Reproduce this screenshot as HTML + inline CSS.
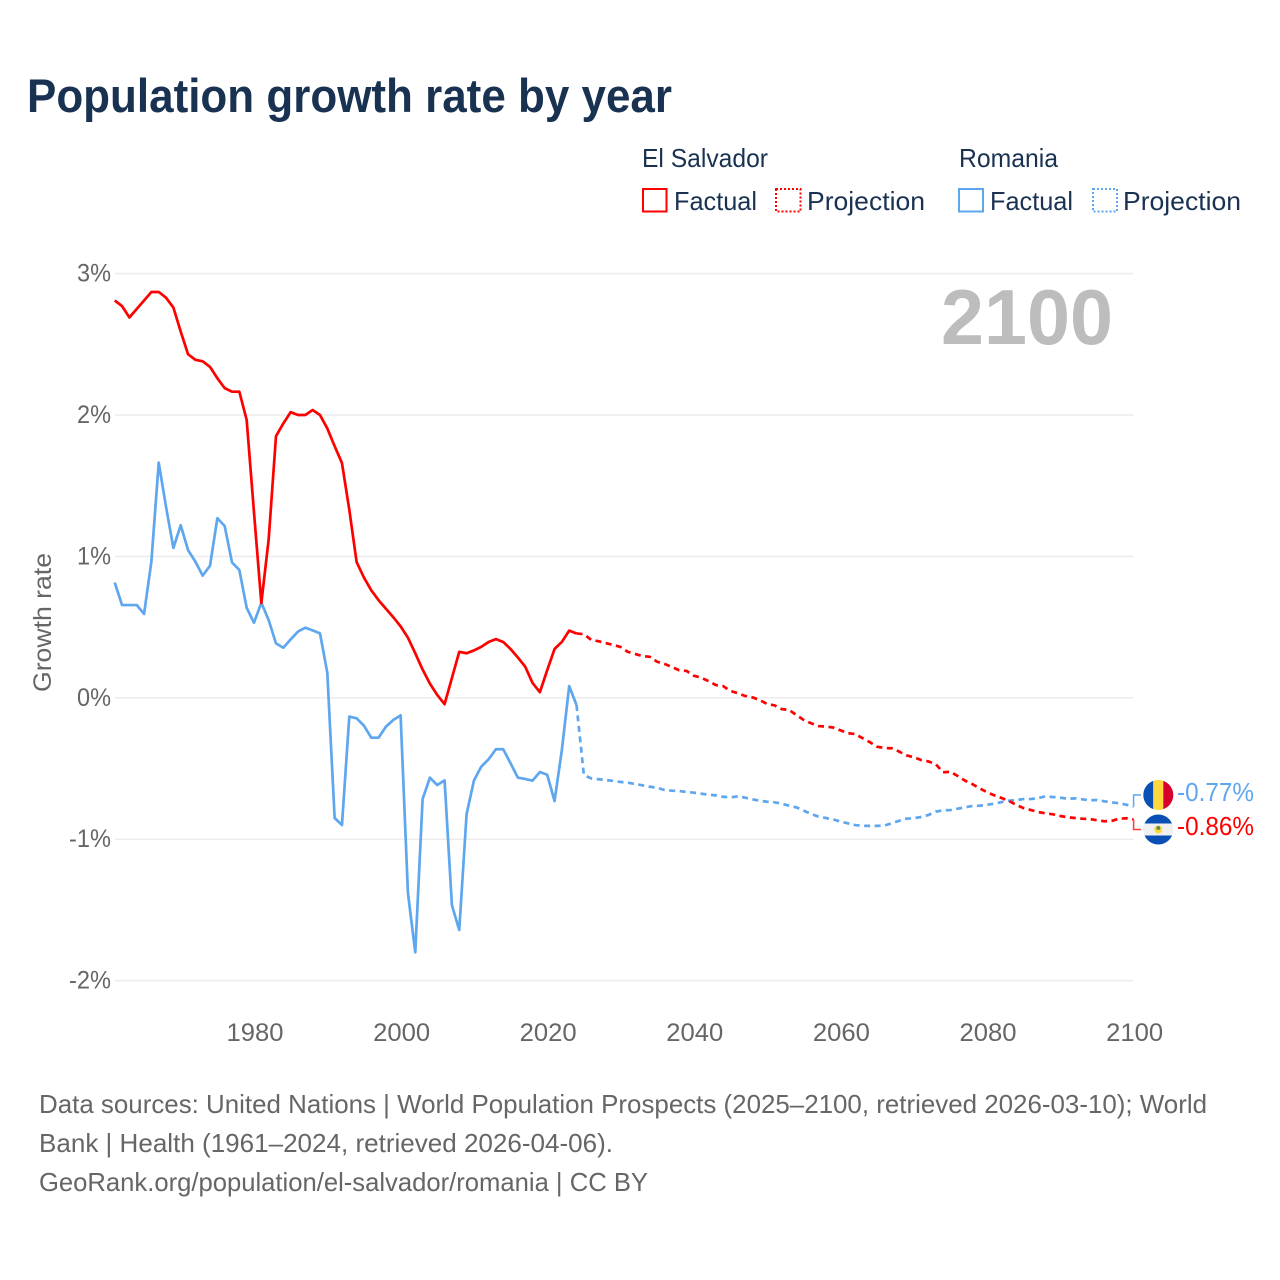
<!DOCTYPE html>
<html lang="en">
<head>
<meta charset="utf-8">
<title>Population growth rate by year</title>
<style>
html,body{margin:0;padding:0;background:#fff}
svg{display:block}
text{font-family:"Liberation Sans",sans-serif}
</style>
</head>
<body>
<svg id="chart" xmlns="http://www.w3.org/2000/svg" width="1280" height="1280" viewBox="0 0 1280 1280">
  <rect x="0" y="0" width="1280" height="1280" fill="#ffffff"/>
  <text x="27" y="112" font-size="47" font-weight="700" fill="#1a3252" textLength="645" lengthAdjust="spacingAndGlyphs">Population growth rate by year</text>

  <g font-size="26" fill="#1a3252">
    <text x="642" y="167" textLength="126" lengthAdjust="spacingAndGlyphs">El Salvador</text>
    <rect x="643" y="189" width="23.5" height="22.5" fill="none" stroke="#ff0000" stroke-width="2"/>
    <text x="674" y="210" textLength="83" lengthAdjust="spacingAndGlyphs">Factual</text>
    <rect x="776" y="189" width="24.5" height="22.5" fill="none" stroke="#ff0000" stroke-width="2" stroke-dasharray="2 2"/>
    <text x="807" y="210" textLength="118" lengthAdjust="spacingAndGlyphs">Projection</text>
    <text x="959" y="167" textLength="99" lengthAdjust="spacingAndGlyphs">Romania</text>
    <rect x="959" y="189" width="24" height="22.5" fill="none" stroke="#5ea6ee" stroke-width="2"/>
    <text x="990" y="210" textLength="83" lengthAdjust="spacingAndGlyphs">Factual</text>
    <rect x="1093" y="189" width="24" height="22.5" fill="none" stroke="#5ea6ee" stroke-width="2" stroke-dasharray="2 2"/>
    <text x="1123" y="210" textLength="118" lengthAdjust="spacingAndGlyphs">Projection</text>
  </g>

  <g id="grid"></g>
  <g id="y-ticks"></g>
  <g id="x-ticks"></g>

  <text transform="translate(51,622.5) rotate(-90)" text-anchor="middle" font-size="25" fill="#666666" textLength="139" lengthAdjust="spacingAndGlyphs">Growth rate</text>

  <text x="941" y="344" font-size="78" font-weight="700" fill="#bdbdbd" textLength="172" lengthAdjust="spacingAndGlyphs">2100</text>

  <g id="series"></g>
  <g id="connectors"></g>

  <defs>
    <clipPath id="flag-ro-clip"><circle cx="1158.3" cy="795" r="15"/></clipPath>
    <clipPath id="flag-sv-clip"><circle cx="1158.3" cy="829.5" r="15"/></clipPath>
  </defs>
  <g clip-path="url(#flag-ro-clip)">
    <rect x="1143" y="780" width="10.3" height="30" fill="#0a50b4"/>
    <rect x="1153.3" y="780" width="10" height="30" fill="#ffd83e"/>
    <rect x="1163.3" y="780" width="10.5" height="30" fill="#d8002c"/>
  </g>
  <g clip-path="url(#flag-sv-clip)">
    <rect x="1143" y="814" width="31" height="31" fill="#f0f0f0"/>
    <rect x="1143" y="814" width="31" height="9.5" fill="#0a50b4"/>
    <rect x="1143" y="835.5" width="31" height="9.5" fill="#0a50b4"/>
    <circle cx="1158.3" cy="829.5" r="4" fill="#ffd83e"/>
    <circle cx="1158.3" cy="828" r="2" fill="#5f8f4a"/>
  </g>
  <text x="1177" y="801" font-size="26" fill="#5ea6ee" textLength="77" lengthAdjust="spacingAndGlyphs">-0.77%</text>
  <text x="1177" y="835" font-size="26" fill="#ff0000" textLength="77" lengthAdjust="spacingAndGlyphs">-0.86%</text>

  <g font-size="26" fill="#666666">
    <text x="39" y="1113" textLength="1168" lengthAdjust="spacingAndGlyphs">Data sources: United Nations | World Population Prospects (2025–2100, retrieved 2026-03-10); World</text>
    <text x="39" y="1152" textLength="574" lengthAdjust="spacingAndGlyphs">Bank | Health (1961–2024, retrieved 2026-04-06).</text>
    <text x="39" y="1191" textLength="609" lengthAdjust="spacingAndGlyphs">GeoRank.org/population/el-salvador/romania | CC BY</text>
  </g>
</svg>
<script>
const yTickValues = [3, 2, 1, 0, -1, -2];
const yTickLabels = ["3%", "2%", "1%", "0%", "-1%", "-2%"];
const xTickValues = [1980, 2000, 2020, 2040, 2060, 2080, 2100];
const xTickLabels = ["1980", "2000", "2020", "2040", "2060", "2080", "2100"];
const factualStartYear = 1961;
const projectionStartYear = 2024;

const elSalvadorFactual = [2.81,2.77,2.69,2.75,2.81,2.87,2.87,2.83,2.76,2.59,2.43,2.39,2.38,2.34,2.26,2.19,2.165,2.165,1.965,1.31,0.67,1.12,1.85,1.94,2.02,2.0,2.0,2.035,2.0,1.905,1.78,1.66,1.33,0.96,0.85,0.76,0.69,0.63,0.57,0.505,0.425,0.315,0.2,0.1,0.02,-0.045,0.14,0.325,0.315,0.335,0.36,0.395,0.415,0.395,0.345,0.285,0.22,0.105,0.04,0.195,0.345,0.395,0.475,0.455];
const elSalvadorProjection = [0.455,0.45,0.41,0.4,0.387,0.373,0.36,0.325,0.31,0.295,0.29,0.255,0.24,0.218,0.195,0.19,0.156,0.142,0.118,0.09,0.083,0.048,0.033,0.013,0.003,-0.016,-0.044,-0.053,-0.08,-0.086,-0.122,-0.157,-0.18,-0.2,-0.204,-0.21,-0.23,-0.25,-0.256,-0.285,-0.313,-0.346,-0.355,-0.357,-0.38,-0.407,-0.42,-0.44,-0.45,-0.468,-0.527,-0.523,-0.553,-0.586,-0.61,-0.64,-0.668,-0.69,-0.709,-0.73,-0.758,-0.78,-0.794,-0.808,-0.817,-0.824,-0.836,-0.845,-0.85,-0.855,-0.857,-0.866,-0.873,-0.871,-0.855,-0.852,-0.86];
const romaniaFactual = [0.815,0.656,0.656,0.656,0.593,0.963,1.663,1.35,1.06,1.22,1.045,0.963,0.864,0.934,1.27,1.215,0.957,0.904,0.637,0.531,0.672,0.55,0.385,0.354,0.413,0.468,0.496,0.477,0.456,0.178,-0.85,-0.9,-0.133,-0.145,-0.197,-0.282,-0.282,-0.204,-0.157,-0.124,-1.38,-1.8,-0.716,-0.565,-0.617,-0.584,-1.466,-1.642,-0.824,-0.586,-0.487,-0.435,-0.364,-0.364,-0.463,-0.565,-0.574,-0.586,-0.525,-0.544,-0.73,-0.369,0.083,-0.051];
const romaniaProjection = [-0.051,-0.546,-0.57,-0.576,-0.581,-0.588,-0.595,-0.6,-0.61,-0.619,-0.629,-0.636,-0.652,-0.657,-0.659,-0.666,-0.671,-0.678,-0.685,-0.69,-0.7,-0.704,-0.697,-0.706,-0.718,-0.728,-0.735,-0.739,-0.749,-0.763,-0.775,-0.798,-0.822,-0.84,-0.85,-0.86,-0.875,-0.888,-0.9,-0.906,-0.906,-0.906,-0.904,-0.887,-0.87,-0.855,-0.852,-0.843,-0.829,-0.805,-0.796,-0.794,-0.784,-0.775,-0.765,-0.763,-0.756,-0.749,-0.737,-0.728,-0.723,-0.716,-0.716,-0.709,-0.697,-0.702,-0.706,-0.714,-0.711,-0.718,-0.725,-0.723,-0.732,-0.739,-0.746,-0.756,-0.77];

const NS = "http://www.w3.org/2000/svg";
function xScale(year) { return 254 + (year - 1980) * 7.33; }
function yScale(value) { return 697.8 - value * 141.4; }
function make(tag, attrs, parent) {
  const el = document.createElementNS(NS, tag);
  for (const k in attrs) el.setAttribute(k, attrs[k]);
  parent.appendChild(el);
  return el;
}
const gridGroup = document.getElementById("grid");
const yGroup = document.getElementById("y-ticks");
const xGroup = document.getElementById("x-ticks");
const seriesGroup = document.getElementById("series");
const connectorGroup = document.getElementById("connectors");

yTickValues.forEach(function (v, i) {
  const line = make("line", {x1: 115, x2: 1133.5, y1: yScale(v), y2: yScale(v), stroke: "#ececec", "stroke-width": 1.5}, gridGroup);
  
  
  const label = make("text", {x: 111, y: yScale(v) + 8, "text-anchor": "end", "font-size": 25, fill: "#666666", textLength: yTickLabels[i].length > 2 ? 42 : 34, lengthAdjust: "spacingAndGlyphs"}, yGroup);
  
  
  label.textContent = yTickLabels[i];
});
xTickValues.forEach(function (v, i) {
  const label = make("text", {x: xScale(v) + 1, y: 1041, "text-anchor": "middle", "font-size": 25, fill: "#666666", textLength: 57, lengthAdjust: "spacingAndGlyphs"}, xGroup);
  
  
  label.textContent = xTickLabels[i];
});
function pathFor(values, startYear) {
  return values.map(function (v, i) {
    return (i ? "L" : "M") + xScale(startYear + i).toFixed(2) + " " + yScale(v).toFixed(2);
  }).join(" ");
}
function drawLine(values, startYear, color, dashed) {
  const attrs = {d: pathFor(values, startYear), fill: "none", stroke: color, "stroke-width": 2.7, "stroke-linejoin": "round"};
  if (dashed) attrs["stroke-dasharray"] = "6 4.5";
  return make("path", attrs, seriesGroup);
}
const romaniaProjectionLine = drawLine(romaniaProjection, projectionStartYear, "#5ea6ee", true);


const romaniaFactualLine = drawLine(romaniaFactual, factualStartYear, "#5ea6ee", false);


const salvadorProjectionLine = drawLine(elSalvadorProjection, projectionStartYear, "#ff0000", true);


const salvadorFactualLine = drawLine(elSalvadorFactual, factualStartYear, "#ff0000", false);



function drawConnector(lastValue, labelY, color) {
  const x = xScale(2100);
  return make("path", {d: "M" + x + " " + yScale(lastValue) + " L" + x + " " + labelY + " L1141 " + labelY, fill: "none", stroke: color, "stroke-width": 1.5}, connectorGroup);
}
const romaniaConnector = drawConnector(romaniaProjection[romaniaProjection.length - 1], 795, "#5ea6ee");


const salvadorConnector = drawConnector(elSalvadorProjection[elSalvadorProjection.length - 1], 829.5, "#ff3b3b");


</script>
</body>
</html>
